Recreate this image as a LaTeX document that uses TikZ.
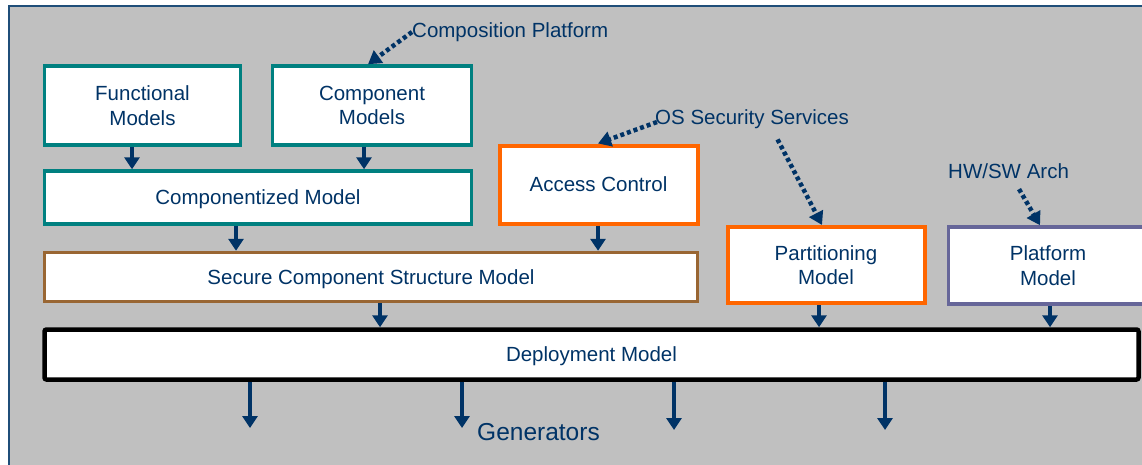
\documentclass[tikz,border=0pt]{standalone}
\usepackage{fontspec}
\setmainfont{Liberation Sans}
\usetikzlibrary{arrows.meta}
\definecolor{dblue}{HTML}{003366}
\definecolor{tealc}{HTML}{008080}
\definecolor{orng}{HTML}{FF6600}
\definecolor{brwn}{HTML}{996633}
\definecolor{purp}{HTML}{666699}
\definecolor{bggray}{HTML}{C0C0C0}
\definecolor{framec}{HTML}{1F4E79}
\begin{document}
\begin{tikzpicture}[x=1pt,y=-1pt,
 box/.style={draw, fill=white, line width=3.5pt, align=center, text=dblue,
   font=\fontsize{20.5}{24.6}\selectfont, inner sep=0pt},
 oneline/.style={text depth=0pt},
 lbl/.style={text=dblue, font=\fontsize{20.5}{24.6}\selectfont, inner sep=0pt, anchor=west},
 arr/.style={dblue, line width=4.5pt, -{Triangle[width=15pt,length=12pt]}},
 darr/.style={dblue, line width=4.5pt, dash pattern=on 4pt off 3pt, -{Triangle[width=15pt,length=13pt]}},
]
\useasboundingbox (0,0) rectangle (1142,464);
\fill[white] (0,0) rectangle (1142,464);
\draw[fill=bggray, draw=framec, line width=2.5pt] (9,6) rectangle (1160,480);

% boxes
\node[box, draw=tealc, minimum width=196pt, minimum height=79pt] (func) at (142.5,105.5) {Functional\\Models};
\node[box, draw=tealc, minimum width=199pt, minimum height=79pt] (comp) at (372,105.5) {Component\\Models};
\node[box, oneline, draw=tealc, minimum width=427pt, minimum height=53pt] (cized) at (258,197.5) {Componentized Model};
\node[box, oneline, draw=orng, line width=4pt, minimum width=198pt, minimum height=78pt] (access) at (598.5,184.5) {Access Control};
\node[box, oneline, draw=brwn, minimum width=653pt, minimum height=49pt] (secure) at (371,277) {Secure Component Structure Model};
\node[box, draw=orng, line width=4pt, minimum width=197pt, minimum height=76pt] (part) at (826,265) {Partitioning\\Model};
\node[box, draw=purp, minimum width=199pt, minimum height=77pt] (plat) at (1048,265.5) {Platform\\Model};
\node[box, oneline, draw=black, line width=4.5pt, rounded corners=2pt, minimum width=1094pt, minimum height=50pt] (deploy) at (591.5,354.5) {Deployment Model};

% labels
\node[lbl] (cp) at (412,32) {Composition Platform};
\node[lbl] (os) at (655,119) {OS Security Services};
\node[lbl] (hw) at (948,171) {HW/SW Arch};
\node[lbl, font=\fontsize{24.5}{29}\selectfont] (gen) at (477,432) {Generators};

% solid arrows
\draw[arr] (func.south -| 132,0) -- (cized.north -| 132,0);
\draw[arr] (comp.south -| 364,0) -- (cized.north -| 364,0);
\draw[arr] (cized.south -| 236,0) -- (secure.north -| 236,0);
\draw[arr] (access.south -| 598,0) -- (secure.north -| 598,0);
\draw[arr] (secure.south -| 380,0) -- (deploy.north -| 380,0);
\draw[arr] (part.south -| 819,0) -- (deploy.north -| 819,0);
\draw[arr] (plat.south -| 1050,0) -- (deploy.north -| 1050,0);

% generator arrows
\coordinate (g1) at (250,428);
\coordinate (g2) at (462,428);
\coordinate (g3) at (674,430);
\coordinate (g4) at (885,430);
\foreach \g in {g1,g2,g3,g4}
  \draw[arr] (deploy.south -| \g) -- (\g);

% dotted arrows
\draw[darr] (cp.west) -- (comp.north -| 368,0);
\draw[darr] ([xshift=2pt,yshift=-3pt]os.west) -- (access.north -| 598,0);
\draw[darr, shorten <=12pt] (os.south -| 772,0) -- (part.north -| 822,0);
\draw[darr, shorten <=12pt] (hw.south -| 1013,0) -- (plat.north -| 1040,0);
\end{tikzpicture}
\end{document}
